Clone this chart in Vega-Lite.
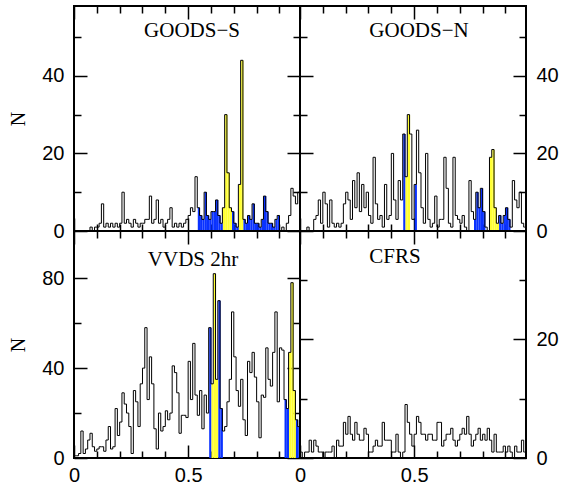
{
"$schema": "https://vega.github.io/schema/vega-lite/v6.json",
"autosize": {"type": "pad"},
"padding": {"left": 7, "top": 4, "right": 1, "bottom": 1},
"background": "white",
"config": {
  "view": {"stroke": "black", "strokeWidth": 2},
  "axis": {"domain": false, "grid": false, "labelFlush": false, "labelOverlap": false, "tickColor": "black", "tickWidth": 1.5, "labelFont": "Liberation Sans", "labelFontSize": 20, "labelColor": "black", "titleFont": "Liberation Serif", "titleFontSize": 20, "titleFontWeight": "normal", "titleColor": "black", "titlePadding": 13, "labelPadding": 23},
  "axisX": {"labelPadding": 20},
  "title": {"font": "Liberation Serif", "fontSize": 21, "fontWeight": "normal", "color": "black", "anchor": "middle", "baseline": "alphabetic"}
},
"datasets": {
"gs": [
{"z":0.005,"n":0},{"z":0.015,"n":0},{"z":0.025,"n":0},{"z":0.035,"n":0},{"z":0.045,"n":0},{"z":0.055,"n":0},{"z":0.065,"n":0},{"z":0.075,"n":1},{"z":0.085,"n":0},{"z":0.095,"n":1},
{"z":0.105,"n":1},{"z":0.115,"n":2},{"z":0.125,"n":7},{"z":0.135,"n":1},{"z":0.145,"n":2},{"z":0.155,"n":1},{"z":0.165,"n":2},{"z":0.175,"n":1},{"z":0.185,"n":2},{"z":0.195,"n":1},
{"z":0.205,"n":2},{"z":0.215,"n":10},{"z":0.225,"n":2},{"z":0.235,"n":3},{"z":0.245,"n":2},{"z":0.255,"n":1},{"z":0.265,"n":3},{"z":0.275,"n":2},{"z":0.285,"n":1},{"z":0.295,"n":2},
{"z":0.305,"n":2},{"z":0.315,"n":3},{"z":0.325,"n":3},{"z":0.335,"n":9},{"z":0.345,"n":2},{"z":0.355,"n":3},{"z":0.365,"n":8},{"z":0.375,"n":2},{"z":0.385,"n":3},{"z":0.395,"n":1},
{"z":0.405,"n":2},{"z":0.415,"n":3},{"z":0.425,"n":6},{"z":0.435,"n":1},{"z":0.445,"n":2},{"z":0.455,"n":1},{"z":0.465,"n":2},{"z":0.475,"n":1},{"z":0.485,"n":2},{"z":0.495,"n":3},
{"z":0.505,"n":4},{"z":0.515,"n":6},{"z":0.525,"n":5},{"z":0.535,"n":14},{"z":0.545,"n":6,"c":"b"},{"z":0.555,"n":4,"c":"b"},{"z":0.565,"n":3,"c":"b"},{"z":0.575,"n":10,"c":"b"},{"z":0.585,"n":4,"c":"b"},{"z":0.595,"n":3,"c":"b"},
{"z":0.605,"n":5,"c":"b"},{"z":0.615,"n":5,"c":"b"},{"z":0.625,"n":8,"c":"b"},{"z":0.635,"n":4,"c":"b"},{"z":0.645,"n":2,"c":"b"},{"z":0.655,"n":6,"c":"y"},{"z":0.665,"n":30,"c":"y"},{"z":0.675,"n":15,"c":"y"},{"z":0.685,"n":6,"c":"y"},{"z":0.695,"n":5,"c":"b"},
{"z":0.705,"n":2,"c":"b"},{"z":0.715,"n":1,"c":"b"},{"z":0.725,"n":12,"c":"y"},{"z":0.735,"n":44,"c":"y"},{"z":0.745,"n":3,"c":"b"},{"z":0.755,"n":2,"c":"b"},{"z":0.765,"n":4,"c":"b"},{"z":0.775,"n":3,"c":"b"},{"z":0.785,"n":7,"c":"b"},{"z":0.795,"n":2,"c":"b"},
{"z":0.805,"n":2,"c":"b"},{"z":0.815,"n":1,"c":"b"},{"z":0.825,"n":3,"c":"b"},{"z":0.835,"n":9,"c":"b"},{"z":0.845,"n":5,"c":"b"},{"z":0.855,"n":2,"c":"b"},{"z":0.865,"n":2,"c":"b"},{"z":0.875,"n":1,"c":"b"},{"z":0.885,"n":3,"c":"b"},{"z":0.895,"n":4,"c":"b"},
{"z":0.905,"n":0},{"z":0.915,"n":1},{"z":0.925,"n":0},{"z":0.935,"n":2},{"z":0.945,"n":4},{"z":0.955,"n":11},{"z":0.965,"n":9},{"z":0.975,"n":7},{"z":0.985,"n":10}
],
"gn": [
{"z":0.005,"n":0},{"z":0.015,"n":0},{"z":0.025,"n":0},{"z":0.035,"n":1},{"z":0.045,"n":0},{"z":0.055,"n":0},{"z":0.065,"n":3},{"z":0.075,"n":4},{"z":0.085,"n":8},{"z":0.095,"n":2},
{"z":0.105,"n":10},{"z":0.115,"n":7},{"z":0.125,"n":1},{"z":0.135,"n":8},{"z":0.145,"n":2},{"z":0.155,"n":1},{"z":0.165,"n":2},{"z":0.175,"n":1},{"z":0.185,"n":2},{"z":0.195,"n":7},
{"z":0.205,"n":10},{"z":0.215,"n":8},{"z":0.225,"n":3},{"z":0.235,"n":13},{"z":0.245,"n":6},{"z":0.255,"n":15},{"z":0.265,"n":5},{"z":0.275,"n":12},{"z":0.285,"n":6},{"z":0.295,"n":10},
{"z":0.305,"n":4},{"z":0.315,"n":2},{"z":0.325,"n":19},{"z":0.335,"n":7},{"z":0.345,"n":3},{"z":0.355,"n":4},{"z":0.365,"n":1},{"z":0.375,"n":12},{"z":0.385,"n":3},{"z":0.395,"n":4},
{"z":0.405,"n":20},{"z":0.415,"n":8},{"z":0.425,"n":3},{"z":0.435,"n":13},{"z":0.445,"n":8},{"z":0.455,"n":25,"c":"b"},{"z":0.465,"n":14,"c":"y"},{"z":0.475,"n":30,"c":"y"},{"z":0.485,"n":25},{"z":0.495,"n":3},
{"z":0.505,"n":12,"c":"b"},{"z":0.515,"n":26},{"z":0.525,"n":15},{"z":0.535,"n":6},{"z":0.545,"n":2},{"z":0.555,"n":20},{"z":0.565,"n":3},{"z":0.575,"n":1},{"z":0.585,"n":2},{"z":0.595,"n":9},
{"z":0.605,"n":1},{"z":0.615,"n":3},{"z":0.625,"n":3},{"z":0.635,"n":19},{"z":0.645,"n":11},{"z":0.655,"n":2},{"z":0.665,"n":1},{"z":0.675,"n":19},{"z":0.685,"n":4},{"z":0.695,"n":3},
{"z":0.705,"n":2},{"z":0.715,"n":4},{"z":0.725,"n":1},{"z":0.735,"n":0},{"z":0.745,"n":13},{"z":0.755,"n":5},{"z":0.765,"n":3,"c":"b"},{"z":0.775,"n":10,"c":"b"},{"z":0.785,"n":6,"c":"b"},{"z":0.795,"n":11,"c":"b"},
{"z":0.805,"n":5,"c":"b"},{"z":0.815,"n":1},{"z":0.825,"n":0},{"z":0.835,"n":19,"c":"y"},{"z":0.845,"n":21,"c":"y"},{"z":0.855,"n":6,"c":"y"},{"z":0.865,"n":2,"c":"y"},{"z":0.875,"n":4,"c":"b"},{"z":0.885,"n":2,"c":"b"},{"z":0.895,"n":4,"c":"b"},
{"z":0.905,"n":6,"c":"b"},{"z":0.915,"n":3,"c":"b"},{"z":0.925,"n":1},{"z":0.935,"n":13},{"z":0.945,"n":8},{"z":0.955,"n":6},{"z":0.965,"n":10},{"z":0.975,"n":2},{"z":0.985,"n":1}
],
"vv": [
{"z":0.005,"n":1},{"z":0.015,"n":1},{"z":0.025,"n":2},{"z":0.035,"n":12},{"z":0.045,"n":2},{"z":0.055,"n":4},{"z":0.065,"n":8},{"z":0.075,"n":11},{"z":0.085,"n":5},{"z":0.095,"n":3},
{"z":0.105,"n":4},{"z":0.115,"n":5},{"z":0.125,"n":5},{"z":0.135,"n":3},{"z":0.145,"n":8},{"z":0.155,"n":14},{"z":0.165,"n":4},{"z":0.175,"n":5},{"z":0.185,"n":22},{"z":0.195,"n":10},
{"z":0.205,"n":16},{"z":0.215,"n":29},{"z":0.225,"n":24},{"z":0.235,"n":20},{"z":0.245,"n":14},{"z":0.255,"n":2},{"z":0.265,"n":30},{"z":0.275,"n":25},{"z":0.285,"n":14},{"z":0.295,"n":33},
{"z":0.305,"n":40},{"z":0.315,"n":58},{"z":0.325,"n":26},{"z":0.335,"n":45},{"z":0.345,"n":33},{"z":0.355,"n":13},{"z":0.365,"n":4},{"z":0.375,"n":20},{"z":0.385,"n":12},{"z":0.395,"n":14},
{"z":0.405,"n":21},{"z":0.415,"n":17},{"z":0.425,"n":20},{"z":0.435,"n":41},{"z":0.445,"n":38},{"z":0.455,"n":29},{"z":0.465,"n":11},{"z":0.475,"n":19},{"z":0.485,"n":19},{"z":0.495,"n":18},
{"z":0.505,"n":43},{"z":0.515,"n":26},{"z":0.525,"n":51},{"z":0.535,"n":28},{"z":0.545,"n":19},{"z":0.555,"n":30},{"z":0.565,"n":13},{"z":0.575,"n":28},{"z":0.585,"n":20},{"z":0.595,"n":58,"c":"b"},
{"z":0.605,"n":33,"c":"y"},{"z":0.615,"n":82,"c":"y"},{"z":0.625,"n":35,"c":"y"},{"z":0.635,"n":70,"c":"b"},{"z":0.645,"n":22,"c":"b"},{"z":0.655,"n":12},{"z":0.665,"n":14},{"z":0.675,"n":25},{"z":0.685,"n":35},{"z":0.695,"n":65},
{"z":0.705,"n":45},{"z":0.715,"n":30},{"z":0.725,"n":23},{"z":0.735,"n":35},{"z":0.745,"n":17},{"z":0.755,"n":10},{"z":0.765,"n":43},{"z":0.775,"n":38},{"z":0.785,"n":47},{"z":0.795,"n":36},
{"z":0.805,"n":25},{"z":0.815,"n":9},{"z":0.825,"n":28},{"z":0.835,"n":27},{"z":0.845,"n":49},{"z":0.855,"n":35},{"z":0.865,"n":32},{"z":0.875,"n":47},{"z":0.885,"n":65},{"z":0.895,"n":25},
{"z":0.905,"n":49},{"z":0.915,"n":48},{"z":0.925,"n":26,"c":"b"},{"z":0.935,"n":22,"c":"b"},{"z":0.945,"n":47,"c":"y"},{"z":0.955,"n":78,"c":"y"},{"z":0.965,"n":30,"c":"y"},{"z":0.975,"n":17,"c":"b"},{"z":0.985,"n":14,"c":"b"}
],
"cf": [
{"z":0.005,"n":1},{"z":0.015,"n":0},{"z":0.025,"n":1},{"z":0.035,"n":1},{"z":0.045,"n":3},{"z":0.055,"n":1},{"z":0.065,"n":3},{"z":0.075,"n":2},{"z":0.085,"n":1},{"z":0.095,"n":1},
{"z":0.105,"n":0},{"z":0.115,"n":1},{"z":0.125,"n":1},{"z":0.135,"n":1},{"z":0.145,"n":2},{"z":0.155,"n":0},{"z":0.165,"n":3},{"z":0.175,"n":2},{"z":0.185,"n":2},{"z":0.195,"n":6},
{"z":0.205,"n":4},{"z":0.215,"n":7},{"z":0.225,"n":4},{"z":0.235,"n":3},{"z":0.245,"n":6},{"z":0.255,"n":4},{"z":0.265,"n":3},{"z":0.275,"n":3},{"z":0.285,"n":5},{"z":0.295,"n":4},
{"z":0.305,"n":1},{"z":0.315,"n":1},{"z":0.325,"n":2},{"z":0.335,"n":3},{"z":0.345,"n":2},{"z":0.355,"n":2},{"z":0.365,"n":6},{"z":0.375,"n":3},{"z":0.385,"n":3},{"z":0.395,"n":3},
{"z":0.405,"n":1},{"z":0.415,"n":1},{"z":0.425,"n":4},{"z":0.435,"n":1},{"z":0.445,"n":0},{"z":0.455,"n":1},{"z":0.465,"n":9},{"z":0.475,"n":6},{"z":0.485,"n":4},{"z":0.495,"n":2},
{"z":0.505,"n":4},{"z":0.515,"n":7},{"z":0.525,"n":6},{"z":0.535,"n":4},{"z":0.545,"n":4},{"z":0.555,"n":3},{"z":0.565,"n":4},{"z":0.575,"n":4},{"z":0.585,"n":3},{"z":0.595,"n":3},
{"z":0.605,"n":6},{"z":0.615,"n":6},{"z":0.625,"n":2},{"z":0.635,"n":3},{"z":0.645,"n":4},{"z":0.655,"n":4},{"z":0.665,"n":5},{"z":0.675,"n":3},{"z":0.685,"n":2},{"z":0.695,"n":3},
{"z":0.705,"n":4},{"z":0.715,"n":5},{"z":0.725,"n":4},{"z":0.735,"n":7},{"z":0.745,"n":4},{"z":0.755,"n":2},{"z":0.765,"n":3},{"z":0.775,"n":4},{"z":0.785,"n":5},{"z":0.795,"n":3},
{"z":0.805,"n":4},{"z":0.815,"n":3},{"z":0.825,"n":5},{"z":0.835,"n":3},{"z":0.845,"n":1},{"z":0.855,"n":4},{"z":0.865,"n":1},{"z":0.875,"n":1},{"z":0.885,"n":1},{"z":0.895,"n":2},
{"z":0.905,"n":1},{"z":0.915,"n":2},{"z":0.925,"n":1},{"z":0.935,"n":0},{"z":0.945,"n":2},{"z":0.955,"n":1},{"z":0.965,"n":1},{"z":0.975,"n":3},{"z":0.985,"n":1}
]
},
"columns": 2, "spacing": 0, "bounds": "flush",
"concat": [
 {"width": 226, "height": 225, "data": {"name": "gs"},
  "title": {"text": "GOODS−S", "offset": -36, "dx": 5},
  "layer": [
   {"transform": [{"filter": "datum.c"}], "mark": {"type": "bar", "binSpacing": 0},
    "encoding": {
     "x": {"field": "z", "type": "quantitative", "bin": {"step": 0.01, "extent": [0, 0.99]}, "scale": {"domain": [0, 0.99], "nice": false, "zero": false},
       "axis": {"orient": "top", "values": [0,0.1,0.2,0.3,0.4,0.5,0.6,0.7,0.8,0.9], "labels": false, "title": null, "tickSize": {"condition": {"test": "datum.value === 0 || abs(datum.value - 0.5) < 0.001", "value": -13}, "value": -7}}},
     "y": {"field": "n", "type": "quantitative", "scale": {"domain": [0, 58], "nice": false},
       "axis": {"orient": "right", "values": [0,10,20,30,40,50], "labels": false, "title": null, "tickSize": {"condition": {"test": "datum.value % 20 === 0", "value": -13}, "value": -7}}},
     "color": {"field": "c", "type": "nominal", "scale": {"domain": ["b","y"], "range": ["#0a32ff","#ffff33"]}, "legend": null}}},
   {"mark": {"type": "line", "interpolate": "step", "color": "black", "strokeWidth": 1},
    "encoding": {
     "x": {"field": "z", "type": "quantitative", "scale": {"domain": [0, 0.99], "nice": false, "zero": false},
       "axis": {"orient": "bottom", "values": [0,0.1,0.2,0.3,0.4,0.5,0.6,0.7,0.8,0.9], "labels": false, "title": null, "tickSize": {"condition": {"test": "datum.value === 0 || abs(datum.value - 0.5) < 0.001", "value": -13}, "value": -7}}},
     "y": {"field": "n", "type": "quantitative", "scale": {"domain": [0, 58], "nice": false},
       "axis": {"orient": "left", "values": [0,10,20,30,40,50], "labelExpr": "datum.value % 20 === 0 ? datum.label : ''", "title": "N", "titleFontWeight": "normal", "labelColor": "black", "tickSize": {"condition": {"test": "datum.value % 20 === 0", "value": -13}, "value": -7}}}}}
  ],
  "resolve": {"axis": {"x": "independent", "y": "independent"}}},
 {"width": 226, "height": 225, "data": {"name": "gn"},
  "title": {"text": "GOODS−N", "offset": -36, "dx": 6},
  "layer": [
   {"transform": [{"filter": "datum.c"}], "mark": {"type": "bar", "binSpacing": 0},
    "encoding": {
     "x": {"field": "z", "type": "quantitative", "bin": {"step": 0.01, "extent": [0, 0.99]}, "scale": {"domain": [0, 0.99], "nice": false, "zero": false},
       "axis": {"orient": "top", "values": [0,0.1,0.2,0.3,0.4,0.5,0.6,0.7,0.8,0.9], "labels": false, "title": null, "tickSize": {"condition": {"test": "datum.value === 0 || abs(datum.value - 0.5) < 0.001", "value": -13}, "value": -7}}},
     "y": {"field": "n", "type": "quantitative", "scale": {"domain": [0, 58], "nice": false},
       "axis": {"orient": "right", "values": [0,10,20,30,40,50], "labelExpr": "datum.value % 20 === 0 ? datum.label : ''", "labelColor": "black", "title": null, "tickSize": {"condition": {"test": "datum.value % 20 === 0", "value": -13}, "value": -7}}},
     "color": {"field": "c", "type": "nominal", "scale": {"domain": ["b","y"], "range": ["#0a32ff","#ffff33"]}, "legend": null}}},
   {"mark": {"type": "line", "interpolate": "step", "color": "black", "strokeWidth": 1},
    "encoding": {
     "x": {"field": "z", "type": "quantitative", "scale": {"domain": [0, 0.99], "nice": false, "zero": false},
       "axis": {"orient": "bottom", "values": [0,0.1,0.2,0.3,0.4,0.5,0.6,0.7,0.8,0.9], "labels": false, "title": null, "tickSize": {"condition": {"test": "datum.value === 0 || abs(datum.value - 0.5) < 0.001", "value": -13}, "value": -7}}},
     "y": {"field": "n", "type": "quantitative", "scale": {"domain": [0, 58], "nice": false},
       "axis": {"orient": "left", "values": [0,10,20,30,40,50], "labels": false, "title": null, "tickSize": {"condition": {"test": "datum.value % 20 === 0", "value": -13}, "value": -7}}}}}
  ],
  "resolve": {"axis": {"x": "independent", "y": "independent"}}},
 {"width": 226, "height": 227, "data": {"name": "vv"},
  "title": {"text": "VVDS 2hr", "offset": -40, "dx": 6},
  "layer": [
   {"transform": [{"filter": "datum.c"}], "mark": {"type": "bar", "binSpacing": 0},
    "encoding": {
     "x": {"field": "z", "type": "quantitative", "bin": {"step": 0.01, "extent": [0, 0.99]}, "scale": {"domain": [0, 0.99], "nice": false, "zero": false},
       "axis": {"orient": "top", "values": [0,0.1,0.2,0.3,0.4,0.5,0.6,0.7,0.8,0.9], "labels": false, "title": null, "tickSize": {"condition": {"test": "datum.value === 0 || abs(datum.value - 0.5) < 0.001", "value": -13}, "value": -7}}},
     "y": {"field": "n", "type": "quantitative", "scale": {"domain": [0, 101], "nice": false},
       "axis": {"orient": "right", "values": [0,20,40,60,80], "labels": false, "title": null, "tickSize": {"condition": {"test": "datum.value % 40 === 0", "value": -13}, "value": -7}}},
     "color": {"field": "c", "type": "nominal", "scale": {"domain": ["b","y"], "range": ["#0a32ff","#ffff33"]}, "legend": null}}},
   {"mark": {"type": "line", "interpolate": "step", "color": "black", "strokeWidth": 1},
    "encoding": {
     "x": {"field": "z", "type": "quantitative", "scale": {"domain": [0, 0.99], "nice": false, "zero": false},
       "axis": {"orient": "bottom", "values": [0,0.1,0.2,0.3,0.4,0.5,0.6,0.7,0.8,0.9], "format": "~g", "labelExpr": "datum.value === 0 || abs(datum.value - 0.5) < 0.001 ? datum.label : ''", "title": null, "tickSize": {"condition": {"test": "datum.value === 0 || abs(datum.value - 0.5) < 0.001", "value": -13}, "value": -7}}},
     "y": {"field": "n", "type": "quantitative", "scale": {"domain": [0, 101], "nice": false},
       "axis": {"orient": "left", "values": [0,20,40,60,80], "labelExpr": "datum.value % 40 === 0 ? datum.label : ''", "title": "N", "titleFontWeight": "normal", "labelColor": "black", "tickSize": {"condition": {"test": "datum.value % 40 === 0", "value": -13}, "value": -7}}}}}
  ],
  "resolve": {"axis": {"x": "independent", "y": "independent"}}},
 {"width": 226, "height": 227, "data": {"name": "cf"},
  "title": {"text": "CFRS", "offset": -37, "dx": -18},
  "layer": [
   {"transform": [{"filter": "datum.c"}], "mark": {"type": "bar", "binSpacing": 0},
    "encoding": {
     "x": {"field": "z", "type": "quantitative", "bin": {"step": 0.01, "extent": [0, 0.99]}, "scale": {"domain": [0, 0.99], "nice": false, "zero": false},
       "axis": {"orient": "top", "values": [0,0.1,0.2,0.3,0.4,0.5,0.6,0.7,0.8,0.9], "labels": false, "title": null, "tickSize": {"condition": {"test": "datum.value === 0 || abs(datum.value - 0.5) < 0.001", "value": -13}, "value": -7}}},
     "y": {"field": "n", "type": "quantitative", "scale": {"domain": [0, 38.2], "nice": false},
       "axis": {"orient": "right", "values": [0,10,20,30], "labelExpr": "datum.value === 0 || datum.value === 20 ? datum.label : ''", "labelColor": "black", "title": null, "tickSize": {"condition": {"test": "datum.value === 0 || datum.value === 20", "value": -13}, "value": -7}}},
     "color": {"field": "c", "type": "nominal", "scale": {"domain": ["b","y"], "range": ["#0a32ff","#ffff33"]}, "legend": null}}},
   {"mark": {"type": "line", "interpolate": "step", "color": "black", "strokeWidth": 1},
    "encoding": {
     "x": {"field": "z", "type": "quantitative", "scale": {"domain": [0, 0.99], "nice": false, "zero": false},
       "axis": {"orient": "bottom", "values": [0,0.1,0.2,0.3,0.4,0.5,0.6,0.7,0.8,0.9], "format": "~g", "labelExpr": "datum.value === 0 || abs(datum.value - 0.5) < 0.001 ? datum.label : ''", "title": null, "tickSize": {"condition": {"test": "datum.value === 0 || abs(datum.value - 0.5) < 0.001", "value": -13}, "value": -7}}},
     "y": {"field": "n", "type": "quantitative", "scale": {"domain": [0, 38.2], "nice": false},
       "axis": {"orient": "left", "values": [0,10,20,30], "labels": false, "title": null, "tickSize": {"condition": {"test": "datum.value === 0 || datum.value === 20", "value": -13}, "value": -7}}}}}
  ],
  "resolve": {"axis": {"x": "independent", "y": "independent"}}}
]
}
